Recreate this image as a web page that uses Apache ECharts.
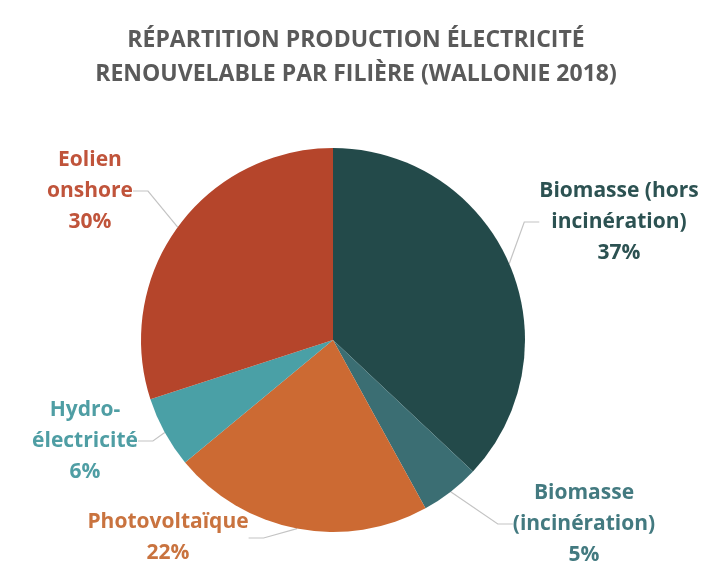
<!DOCTYPE html>
<html>
<head>
<meta charset="utf-8">
<script src="https://cdn.jsdelivr.net/npm/echarts@6/dist/echarts.min.js"></script>
<style>
html,body{margin:0;padding:0;background:#fff;}
#chart{width:710px;height:570px;}
</style>
</head>
<body>
<div id="chart"></div>
<script>
const categories = ["Biomasse (hors\nincinération)", "Biomasse\n(incinération)", "Photovoltaïque", "Hydro-\nélectricité", "Eolien\nonshore"];
const values = [37, 5, 22, 6, 30];
const colors = ["#234a4a", "#3b6e73", "#cc6a33", "#4aa0a6", "#b5452b"];
const labelColors = ["#2c5252", "#437a80", "#c9733f", "#4f9ea4", "#c0543b"];
const labelPos = [[619, 222], [584, 524], [168, 538], [85, 441], [90, 191]];

const chart = echarts.init(document.getElementById('chart'));
chart.setOption({
  backgroundColor: '#ffffff',
  animation: false,
  title: {
    text: 'RÉPARTITION PRODUCTION ÉLECTRICITÉ\nRENOUVELABLE PAR FILIÈRE (WALLONIE 2018)',
    left: 351,
    textAlign: 'center',
    top: 18,
    textStyle: {
      fontFamily: 'Open Sans',
      fontWeight: 'bold',
      fontSize: 23,
      lineHeight: 34,
      color: '#5a5a5a'
    }
  },
  series: [{
    type: 'pie',
    center: [333, 340],
    radius: 192,
    startAngle: 90,
    clockwise: true,
    data: categories.map((c, i) => ({
      name: c,
      value: values[i],
      itemStyle: { color: colors[i] },
      label: { color: labelColors[i] }
    })),
    label: {
      show: true,
      formatter: '{b}\n{c}%',
      fontFamily: 'Open Sans',
      fontWeight: 'bold',
      fontSize: 21,
      lineHeight: 31,
      align: 'center',
      overflow: 'none'
    },
    labelLine: {
      show: true,
      length: 15,
      length2: 15,
      lineStyle: { color: '#c4c4c4', width: 1.2 }
    },
    labelLayout: function (p) {
      const pos = labelPos[p.dataIndex];
      return { x: pos[0], y: pos[1], align: 'center', verticalAlign: 'middle' };
    }
  }]
});
</script>
</body>
</html>
